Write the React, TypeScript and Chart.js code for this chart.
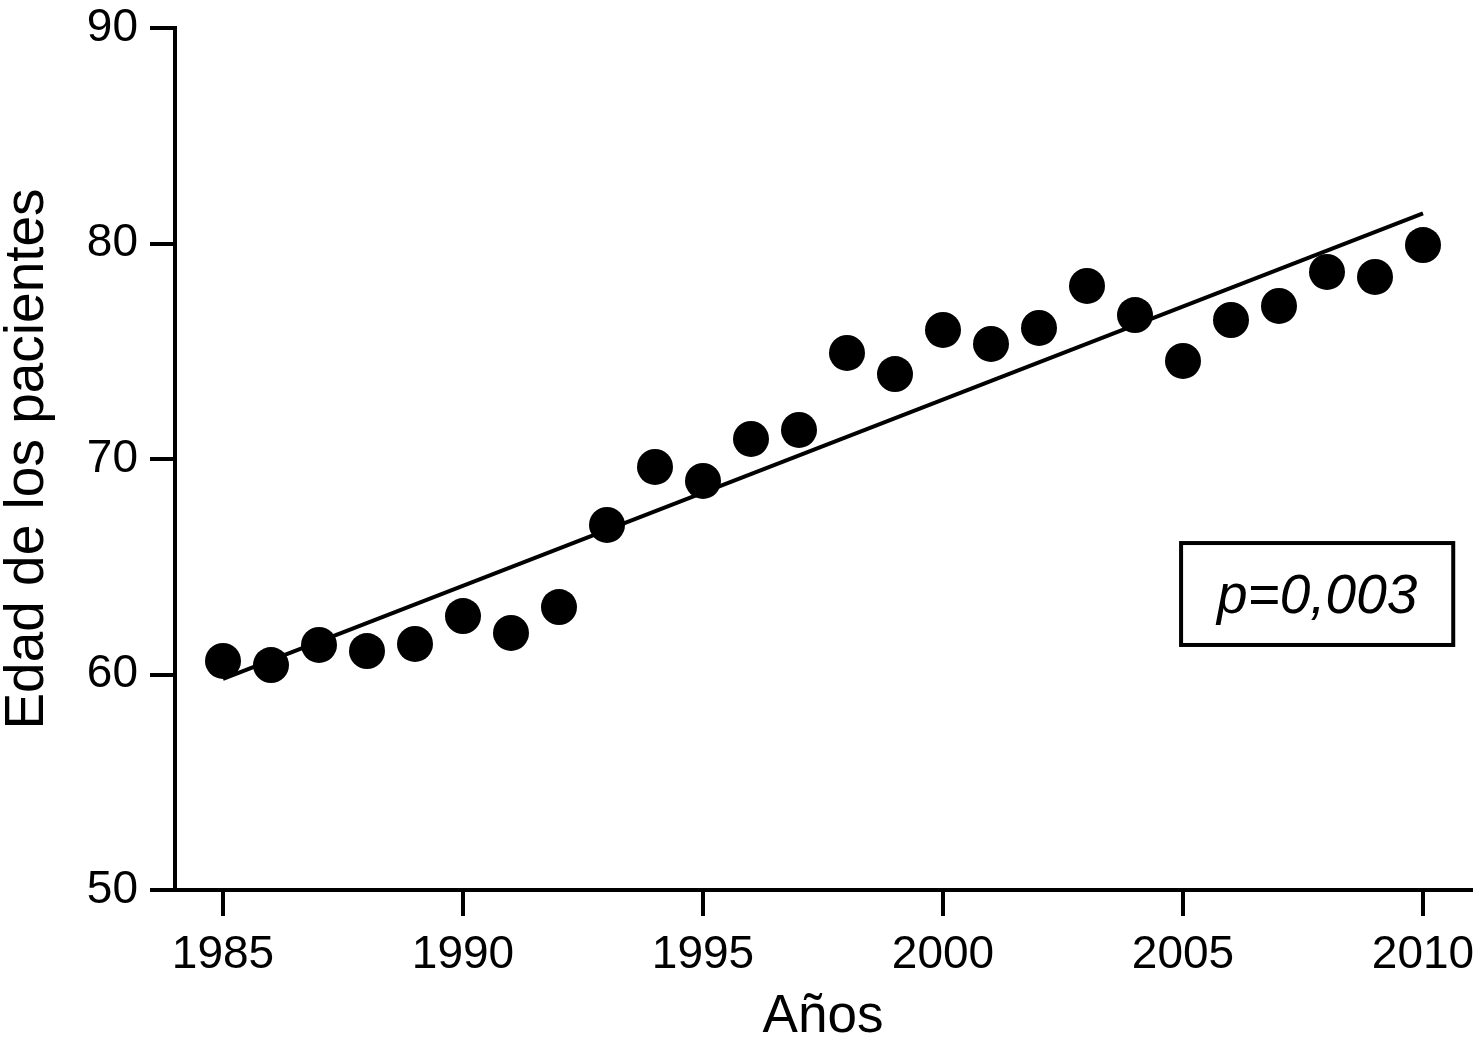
import React, { useEffect, useRef } from 'react';
import { Chart, registerables } from 'chart.js';

Chart.register(...registerables);

const years = [
  1985, 1986, 1987, 1988, 1989, 1990, 1991, 1992, 1993, 1994, 1995, 1996, 1997,
  1998, 1999, 2000, 2001, 2002, 2003, 2004, 2005, 2006, 2007, 2008, 2009, 2010,
];
const ages = [
  60.63, 60.44, 61.37, 61.09, 61.42, 62.71, 61.93, 63.13, 66.94, 69.63, 68.98, 70.93, 71.35,
  74.92, 73.94, 75.99, 75.34, 76.08, 78.03, 76.68, 74.55, 76.45, 77.1, 78.68, 78.45, 79.93,
];
const trendYears = [1985, 2010];
const trendAges = [59.8, 81.4];
const xTicks = [1985, 1990, 1995, 2000, 2005, 2010];
const yTicks = [50, 60, 70, 80, 90];
const pLabel = 'p=0,003';
const xTitle = 'Años';
const yTitle = 'Edad de los pacientes';
// annotation box corners in data units: [x1, x2, yTop, yBottom]
const pBox = [2004.96, 2010.63, 66.1, 61.37];

const FONT = "'Liberation Sans', Arial, Helvetica, sans-serif";

const boxPlugin = {
  id: 'pbox',
  afterDatasetsDraw(chart: any) {
    const { ctx, scales } = chart;
    const x = scales.x;
    const y = scales.y;
    const l = x.getPixelForValue(pBox[0]);
    const r = x.getPixelForValue(pBox[1]);
    const t = y.getPixelForValue(pBox[2]);
    const b = y.getPixelForValue(pBox[3]);
    ctx.save();
    ctx.lineWidth = 4;
    ctx.strokeStyle = '#000';
    ctx.strokeRect(l, t, r - l, b - t);
    ctx.font = `italic 55px ${FONT}`;
    ctx.fillStyle = '#000';
    ctx.textAlign = 'center';
    ctx.textBaseline = 'middle';
    ctx.fillText(pLabel, (l + r) / 2, (t + b) / 2 + 4);
    ctx.restore();
  },
};

export default function App() {
  const ref = useRef<HTMLCanvasElement | null>(null);

  useEffect(() => {
    if (!ref.current) return;
    Chart.defaults.color = '#000';
    const chart = new Chart(ref.current, {
      type: 'scatter',
      data: {
        datasets: [
          {
            label: 'Edad',
            data: years.map((x, i) => ({ x, y: ages[i] })),
            backgroundColor: '#000',
            borderWidth: 0,
            pointRadius: 18,
            order: 1,
          } as any,
          {
            label: 'Tendencia',
            data: trendYears.map((x, i) => ({ x, y: trendAges[i] })),
            showLine: true,
            borderColor: '#000',
            borderWidth: 4,
            pointRadius: 0,
            fill: false,
            tension: 0,
            order: 2,
          } as any,
        ],
      },
      options: {
        responsive: false,
        animation: false,
        devicePixelRatio: 1,
        events: [],
        layout: { autoPadding: false, padding: { top: 28, right: 8, left: 0, bottom: 0 } },
        plugins: {
          legend: { display: false },
          tooltip: { enabled: false },
        },
        scales: {
          x: {
            type: 'linear',
            min: 1984,
            max: 2011,
            afterBuildTicks: (s: any) => {
              s.ticks = xTicks.map((value) => ({ value }));
            },
            afterFit: (s: any) => {
              s.height = 159;
              s.paddingLeft = 0;
              s.paddingRight = 0;
              s.paddingTop = 0;
              s.paddingBottom = 0;
            },
            ticks: {
              font: { size: 46, family: FONT },
              color: '#000',
              padding: 12,
              maxRotation: 0,
              autoSkip: false,
              callback: (v: any) => String(v),
            },
            grid: {
              display: true,
              drawOnChartArea: false,
              drawTicks: true,
              tickLength: 26,
              lineWidth: 4,
              color: '#000',
            },
            border: { display: true, width: 4, color: '#000' },
            title: {
              display: true,
              text: xTitle,
              color: '#000',
              font: { size: 53, family: FONT, lineHeight: 1.2 },
              padding: 0,
            },
          },
          y: {
            type: 'linear',
            min: 50,
            max: 90,
            afterBuildTicks: (s: any) => {
              s.ticks = yTicks.map((value) => ({ value }));
            },
            afterFit: (s: any) => {
              s.width = 175;
              s.paddingLeft = 0;
              s.paddingRight = 0;
              s.paddingTop = 0;
              s.paddingBottom = 0;
            },
            ticks: {
              font: { size: 46, family: FONT },
              color: '#000',
              padding: 12,
              callback: (v: any) => String(v),
            },
            grid: {
              display: true,
              drawOnChartArea: false,
              drawTicks: true,
              tickLength: 25,
              lineWidth: 4,
              color: '#000',
            },
            border: { display: true, width: 4, color: '#000' },
            title: {
              display: true,
              text: yTitle,
              color: '#000',
              font: { size: 55, family: FONT, lineHeight: 1.0 },
              padding: 0,
            },
          },
        },
      } as any,
      plugins: [boxPlugin],
    });
    return () => chart.destroy();
  }, []);

  return (
    <div style={{ position: 'fixed', left: 0, top: 0, width: 1479, height: 1049, background: '#fff' }}>
      <canvas ref={ref} width={1479} height={1049} style={{ display: 'block' }} />
    </div>
  );
}
